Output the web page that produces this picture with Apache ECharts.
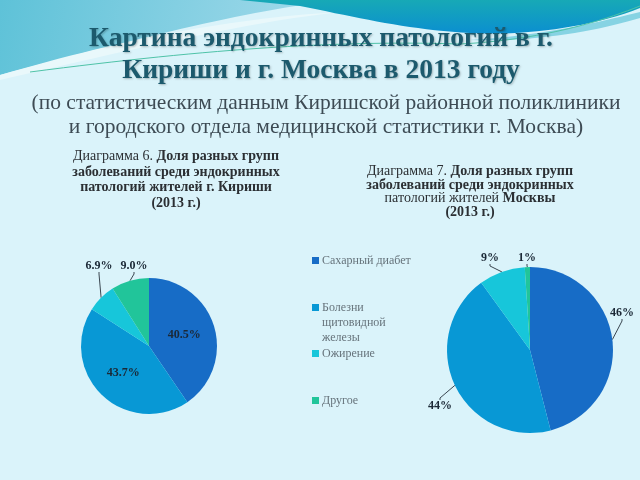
<!DOCTYPE html>
<html>
<head>
<meta charset="utf-8">
<script src="https://cdn.jsdelivr.net/npm/echarts@6/dist/echarts.min.js"></script>
<style>html,body{margin:0;padding:0;background:#daf3fa;}#c{width:640px;height:480px;}</style>
</head>
<body>
<div id="c"></div>
<script>
var categories = ['Сахарный диабет', 'Болезни щитовидной железы', 'Ожирение', 'Другое'];
var legendLabels = ['Сахарный диабет', 'Болезни\nщитовидной\nжелезы', 'Ожирение', 'Другое'];
var kirishiValues = [40.5, 43.7, 6.9, 9.0];
var kirishiLabels = ['40.5%', '43.7%', '6.9%', '9.0%'];
var moscowValues = [46, 44, 9, 1];
var moscowLabels = ['46%', '44%', '9%', '1%'];
var sliceColors = ['#176cc6', '#0898d5', '#17c6da', '#21c59a'];

var SERIF = '"Liberation Serif", "DejaVu Serif", serif';
var chart = echarts.init(document.getElementById('c'), null, {renderer: 'canvas'});

// decorative background curves (sampled cubic beziers)
function bez(p0, p1, p2, p3, n) {
  var pts = [];
  for (var k = 0; k <= n; k++) {
    var t = k / n, u = 1 - t;
    pts.push([
      u*u*u*p0[0] + 3*u*u*t*p1[0] + 3*u*t*t*p2[0] + t*t*t*p3[0],
      u*u*u*p0[1] + 3*u*u*t*p1[1] + 3*u*t*t*p2[1] + t*t*t*p3[1]
    ]);
  }
  return pts;
}
var tlShape = [[0, 0], [340, 0]].concat(bez([340, 0], [250, 10], [150, 35], [0, 75], 30));
var lensShape = bez([0, 75], [120, 40], [230, 18], [340, 12], 30).concat(bez([340, 12], [250, 22], [150, 45], [0, 80], 30));
var trShape = [[240, 0], [640, 0], [640, 8]].concat(bez([640, 8], [590, 28], [520, 36], [470, 33], 20)).concat(bez([470, 33], [410, 30], [360, 18], [300, 6], 20));
var bandShape = bez([470, 40], [540, 36], [600, 22], [640, 12], 20).concat([[640, 18]]).concat(bez([640, 18], [600, 30], [540, 42], [470, 40], 20));
var greenLine = bez([30, 72], [200, 50], [330, 40], [460, 44], 30).concat(bez([460, 44], [540, 40], [600, 22], [640, 6], 20));

// label placement for the outside labels (label centre, in pixels)
var labelSpots = {
  0: {2: [99, 266], 3: [134, 266]},
  1: {0: [622, 313], 1: [440, 406], 2: [490, 258], 3: [527, 258]}
};

function pieData(values, labels, insideIdx) {
  return values.map(function (v, i) {
    var d = {name: categories[i], value: v, itemStyle: {color: sliceColors[i]}};
    d.label = {formatter: labels[i]};
    if (insideIdx.indexOf(i) >= 0) {
      d.label.position = 'inside';
      d.labelLine = {show: false};
    } else {
      d.label.width = 40;
      d.label.overflow = 'none';
    }
    return d;
  });
}

var labelStyle = {fontFamily: SERIF, fontSize: 12, fontWeight: 'bold', color: '#1b2836'};

var legends = categories.map(function (name, i) {
  var tops = [253, 300, 346, 393];
  var isTall = i === 1;
  return {
    data: [name],
    orient: 'vertical',
    left: 312,
    top: tops[i],
    padding: 0,
    icon: isTall ? 'path://M0,0h7v7h-7z M0,36.99h0.01v0.01h-0.01z' : 'rect',
    itemWidth: 7,
    itemHeight: isTall ? 37 : 7,
    selectedMode: false,
    formatter: function () { return legendLabels[i]; },
    textStyle: {fontFamily: SERIF, fontSize: 12, color: '#66737b', lineHeight: 15, padding: [0, 0, 0, -2]}
  };
});

function layoutLabel(params) {
  var s = labelSpots[params.seriesIndex];
  var p = s && s[params.dataIndex];
  if (!p) return {};
  return {x: p[0], y: p[1], align: 'center', verticalAlign: 'middle'};
}

var option = {
  backgroundColor: '#daf3fa',
  animation: false,
  graphic: [
    {type: 'polygon', z: -10, shape: {points: tlShape},
      style: {fill: new echarts.graphic.LinearGradient(0, 0, 1, 1, [{offset: 0, color: '#5ec2d8'}, {offset: 1, color: '#a8dcec'}])}},
    {type: 'polygon', z: -9, shape: {points: lensShape}, style: {fill: '#e9f8fb'}},
    {type: 'polygon', z: -8, shape: {points: trShape},
      style: {fill: new echarts.graphic.LinearGradient(0, 0, 0, 1, [{offset: 0, color: '#17a9b6'}, {offset: 1, color: '#0b8fd0'}])}},
    {type: 'polygon', z: -7, shape: {points: bandShape}, style: {fill: '#86d3e3'}},
    {type: 'polyline', z: -6, shape: {points: greenLine}, style: {stroke: '#4fc3a8', lineWidth: 1}},
    {type: 'text', x: 321, y: 23, z: 10,
      style: {text: 'Картина эндокринных патологий в г.\nКириши и г. Москва в 2013 году', fontFamily: SERIF, fontSize: 27.5, fontWeight: 'bold',
        fill: '#1c5a6d', lineHeight: 32, align: 'center', textShadowColor: 'rgba(0,0,0,0.25)', textShadowBlur: 2, textShadowOffsetX: 1, textShadowOffsetY: 1}},
    {type: 'text', x: 326, y: 91, z: 10,
      style: {text: '(по статистическим данным Киришской районной поликлиники\nи городского отдела медицинской статистики г. Москва)', fontFamily: SERIF, fontSize: 21.5,
        fill: '#3d4b54', lineHeight: 24, align: 'center'}},
    {type: 'text', x: 176, y: 149, z: 10,
      style: {text: '{n|Диаграмма 6. }{b|Доля разных групп}\n{b|заболеваний среди эндокринных}\n{b|патологий жителей г. Кириши}\n{b|(2013 г.)}', align: 'center',
        fontFamily: SERIF, fontSize: 14, lineHeight: 15.5, fill: '#2b2f33',
        rich: {n: {fontFamily: SERIF, fontSize: 14, lineHeight: 15.5, color: '#3a3f44'}, b: {fontFamily: SERIF, fontSize: 14, lineHeight: 15.5, fontWeight: 'bold', color: '#262a2e'}}}},
    {type: 'text', x: 470, y: 165, z: 10,
      style: {text: '{n|Диаграмма 7. }{b|Доля разных групп}\n{b|заболеваний среди эндокринных}\n{n|патологий жителей} {b|Москвы}\n{b|(2013 г.)}', align: 'center',
        fontFamily: SERIF, fontSize: 14, lineHeight: 13.5, fill: '#2b2f33',
        rich: {n: {fontFamily: SERIF, fontSize: 14, lineHeight: 13.5, color: '#3a3f44'}, b: {fontFamily: SERIF, fontSize: 14, lineHeight: 13.5, fontWeight: 'bold', color: '#262a2e'}}}}
  ],
  legend: legends,
  series: [
    {
      type: 'pie', name: 'Кириши', center: [149, 346], radius: 68, startAngle: 90, clockwise: true,
      label: Object.assign({show: true}, labelStyle),
      labelLine: {show: true, length: 14, length2: 2, lineStyle: {color: '#3a4650', width: 1}},
      labelLayout: layoutLabel,
      emphasis: {disabled: true},
      itemStyle: {borderWidth: 0},
      data: pieData(kirishiValues, kirishiLabels, [0, 1])
    },
    {
      type: 'pie', name: 'Москва', center: [530, 350], radius: 83, startAngle: 90, clockwise: true,
      label: Object.assign({show: true}, labelStyle),
      labelLine: {show: true, length: 8, length2: 2, lineStyle: {color: '#3a4650', width: 1}},
      labelLayout: layoutLabel,
      emphasis: {disabled: true},
      itemStyle: {borderWidth: 0},
      data: pieData(moscowValues, moscowLabels, [])
    }
  ]
};
chart.setOption(option);
</script>
</body>
</html>
